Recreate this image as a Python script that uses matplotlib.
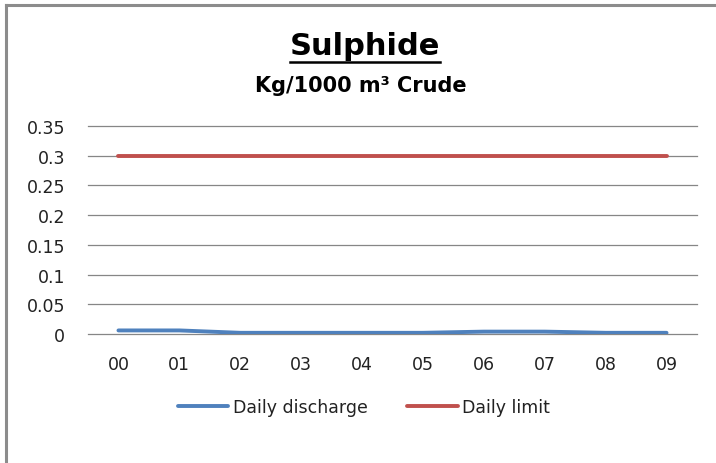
import matplotlib
matplotlib.use("Agg")
import matplotlib.pyplot as plt
from matplotlib.lines import Line2D

plt.rcParams['font.family'] = ['DejaVu Sans']

categories = ["00", "01", "02", "03", "04", "05", "06", "07", "08", "09"]
daily_discharge = [0.006, 0.006, 0.002, 0.002, 0.002, 0.002, 0.004, 0.004, 0.002, 0.002]
daily_limit = [0.3, 0.3, 0.3, 0.3, 0.3, 0.3, 0.3, 0.3, 0.3, 0.3]
yticks = [0, 0.05, 0.1, 0.15, 0.2, 0.25, 0.3, 0.35]
ytick_labels = ["0", "0.05", "0.1", "0.15", "0.2", "0.25", "0.3", "0.35"]

W, H = 716, 464
fig = plt.figure(figsize=(W / 100, H / 100), dpi=100)

# chart border (top and left visible)
border_col = "#8c8c8c"
fig.add_artist(Line2D([5.5 / W, 5.5 / W], [0, 1 - 5.5 / H], transform=fig.transFigure, color=border_col, lw=2.2))
fig.add_artist(Line2D([5.5 / W, 1], [1 - 5.5 / H, 1 - 5.5 / H], transform=fig.transFigure, color=border_col, lw=2.2))

ax = fig.add_axes([88 / W, 1 - 335 / H, (697 - 88) / W, (335 - 127) / H])
x = list(range(len(categories)))
ax.plot(x, daily_discharge, color="#4F81BD", lw=2.8, solid_capstyle="round", label="Daily discharge", zorder=3)
ax.plot(x, daily_limit, color="#C0504D", lw=2.8, solid_capstyle="round", label="Daily limit", zorder=3)

ax.set_xlim(-0.5, len(categories) - 0.5)
ax.set_ylim(0, 0.35)
ax.set_yticks(yticks)
ax.set_yticklabels(ytick_labels)
ax.set_xticks(x)
ax.set_xticklabels(categories)
for yv in yticks:
    ax.axhline(yv, color="#868686", lw=0.9, clip_on=False, zorder=1)
for s in ax.spines.values():
    s.set_visible(False)
ax.tick_params(axis="both", length=0, labelsize=12.5, colors="#222222")
ax.tick_params(axis="y", pad=16.5)
ax.tick_params(axis="x", pad=15)

# title
t1 = fig.text(365 / W, 1 - 47 / H, "Sulphide", ha="center", va="center", fontsize=22, fontweight="bold")
fig.text(361 / W, 1 - 86 / H, "Kg/1000 m\u00b3 Crude", ha="center", va="center", fontsize=15, fontweight="bold")
fig.canvas.draw()
bb = t1.get_window_extent()
uy = 1 - 63 / H
fig.add_artist(Line2D([bb.x0 / W, bb.x1 / W], [uy, uy], transform=fig.transFigure, color="black", lw=1.8))

leg = fig.legend(loc="center", bbox_to_anchor=(364 / W, 1 - 408 / H), ncol=2, frameon=False,
                 fontsize=12.5, handlelength=2.9, handletextpad=0.25, columnspacing=2.3)
for t in leg.get_texts():
    t.set_color("#222222")

fig.savefig("out.png", dpi=100)
